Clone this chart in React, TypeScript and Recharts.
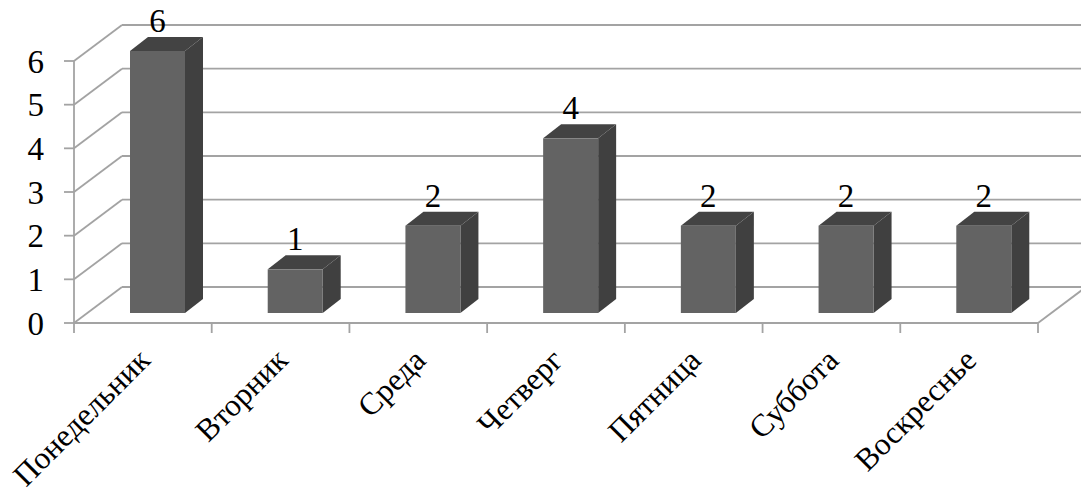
import { BarChart, Bar, XAxis, YAxis, CartesianGrid } from "recharts";

const days = ["Понедельник", "Вторник", "Среда", "Четверг", "Пятница", "Суббота", "Воскреснье"];
const counts = [6, 1, 2, 4, 2, 2, 2];
const valueTicks = [0, 1, 2, 3, 4, 5, 6];

const chartData = days.map((day, i) => ({ day, count: counts[i] }));

const FONT = '"Liberation Serif", serif';
const GRID = "#a3a3a3";
// wall depth of the fake 3D box, bar offset and bar depth
const WALL_DX = 48;
const WALL_DY = 36;
const BAR_DX = 15;
const BAR_DY = 10;
const DEPTH_DX = 18;
const DEPTH_DY = 14;

const wallLine = (props: any) => {
  const { x1, x2, y1, index } = props;
  return (
    <g key={`wall-${index}`} fill="none" stroke={GRID} strokeWidth={1.8}>
      <line x1={x1} y1={y1} x2={x1 + WALL_DX} y2={y1 - WALL_DY} />
      <line x1={x1 + WALL_DX} y1={y1 - WALL_DY} x2={x2 + WALL_DX} y2={y1 - WALL_DY} />
      {y1 > 300 && <line x1={x2} y1={y1} x2={x2 + WALL_DX} y2={y1 - WALL_DY} />}
    </g>
  );
};

const Box3D = (props: any) => {
  const { x, y, width, height } = props;
  const left = x + BAR_DX;
  const right = left + width;
  const top = y - BAR_DY;
  const bottom = top + height;
  return (
    <g>
      <polygon
        points={`${left},${top} ${left + DEPTH_DX},${top - DEPTH_DY} ${right + DEPTH_DX},${top - DEPTH_DY} ${right},${top}`}
        fill="#434343"
      />
      <polygon
        points={`${right},${top} ${right + DEPTH_DX},${top - DEPTH_DY} ${right + DEPTH_DX},${bottom - DEPTH_DY} ${right},${bottom}`}
        fill="#404040"
      />
      <rect x={left} y={top} width={width} height={height} fill="#636363" />
    </g>
  );
};

const barLabel = (props: any) => {
  const { x, y, width, value } = props;
  return (
    <text
      x={x + width / 2 + BAR_DX}
      y={y - 29}
      textAnchor="middle"
      fontFamily={FONT}
      fontSize={33}
      fill="#000"
    >
      {value}
    </text>
  );
};

const DayTick = (props: any) => {
  const { x, y, payload, index, width } = props;
  const step = width / days.length;
  // recharts hands the tick y already pushed below the axis line
  const axisY = y - 8;
  const labelX = x + 9;
  const labelY = axisY + 39;
  return (
    <g>
      <line x1={x - step / 2} y1={axisY} x2={x - step / 2} y2={axisY + 10} stroke={GRID} strokeWidth={1.8} />
      {index === days.length - 1 && (
        <line x1={x + step / 2} y1={axisY} x2={x + step / 2} y2={axisY + 10} stroke={GRID} strokeWidth={1.8} />
      )}
      <text
        x={labelX}
        y={labelY}
        textAnchor="end"
        fontFamily={FONT}
        fontSize={31.5}
        fill="#000"
        transform={`rotate(-45 ${labelX} ${labelY})`}
      >
        {payload.value}
      </text>
    </g>
  );
};

export default function App() {
  return (
    <div style={{ position: "absolute", left: 0, top: 0, width: 1081, height: 494, background: "#fff" }}>
      <BarChart
        width={1081}
        height={494}
        data={chartData}
        margin={{ top: 61, right: 43, left: 0, bottom: 0 }}
      >
        <CartesianGrid horizontal={wallLine} vertical={false} />
        <XAxis
          dataKey="day"
          height={171}
          interval={0}
          tick={DayTick}
          tickLine={false}
          axisLine={{ stroke: GRID, strokeWidth: 1.8 }}
        />
        <YAxis
          width={74}
          domain={[0, 6]}
          ticks={valueTicks}
          tickSize={10}
          tickMargin={20}
          tick={{ fontFamily: FONT, fontSize: 33, fill: "#000" }}
          tickLine={{ stroke: GRID, strokeWidth: 1.8 }}
          axisLine={{ stroke: GRID, strokeWidth: 1.8 }}
        />
        <Bar
          dataKey="count"
          barSize={55}
          shape={Box3D}
          label={barLabel}
          isAnimationActive={false}
        />
      </BarChart>
    </div>
  );
}
